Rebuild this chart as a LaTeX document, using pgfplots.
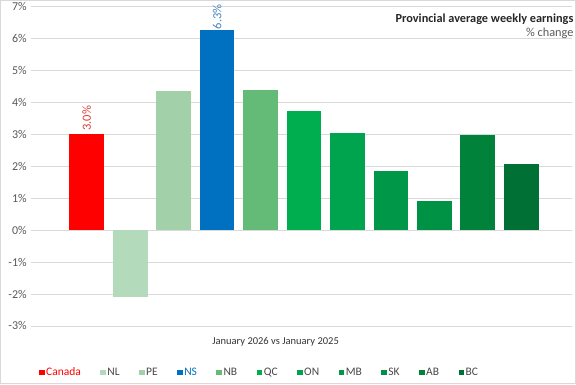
\documentclass[border=0pt]{standalone}
\usepackage{pgfplots}
\pgfplotsset{compat=1.18}
\usepackage{fontspec}
\setmainfont{Carlito}
\definecolor{gridgray}{HTML}{D9D9D9}
\definecolor{txtgray}{HTML}{595959}
\definecolor{cCA}{HTML}{FF0000}
\definecolor{cNL}{HTML}{B4DABC}
\definecolor{cPE}{HTML}{A1D0A9}
\definecolor{cNS}{HTML}{0070C0}
\definecolor{cNB}{HTML}{63BB77}
\definecolor{cQC}{HTML}{00AE50}
\definecolor{cON}{HTML}{00A34E}
\definecolor{cMB}{HTML}{009748}
\definecolor{cSK}{HTML}{009244}
\definecolor{cAB}{HTML}{00823B}
\definecolor{cBC}{HTML}{007034}
\definecolor{lblCA}{HTML}{E03A3A}
\definecolor{lblNS}{HTML}{4A86BE}
\pgfplotsset{
  mybar/.style={ybar, bar width=0.8, bar shift=0pt, draw=none,
    legend image code/.code={\path[##1,draw=none] (0bp,-2.8bp) rectangle (5.6bp,2.8bp);}},
}
\begin{document}
\begin{tikzpicture}
\begin{axis}[
  at={(31bp,58bp)}, anchor=south west,
  scale only axis,
  width=541bp, height=319.5bp,
  xmin=-1.276, xmax=11.16,
  ymin=-3, ymax=7,
  ytick={-3,-2,-1,0,1,2,3,4,5,6,7},
  yticklabel={\pgfmathprintnumber{\tick}\%},
  /pgf/number format/assume math mode=true,
  yticklabel style={font=\fontsize{12bp}{14bp}\selectfont, text=txtgray, inner sep=0pt, anchor=east, xshift=-4.5bp},
  xtick=\empty,
  major tick length=0pt,
  axis line style={draw=none},
  ymajorgrids,
  grid style={color=gridgray, line width=0.8bp},
  clip=false,
  legend columns=11,
  legend style={at={(0.0139,-0.146)}, anchor=west, draw=none, fill=none, inner sep=0pt,
    font=\fontsize{11.5bp}{13bp}\selectfont, text=txtgray!80!black,
    nodes={inner sep=1.5bp},
    /tikz/every even column/.append style={column sep=18bp}},
]
\addplot[mybar, fill=cCA, nodes near coords={\pgfmathprintnumber[fixed,fixed zerofill,precision=1]{\pgfplotspointmeta}\%},
  every node near coord/.style={rotate=90, anchor=west, font=\fontsize{12.5bp}{14bp}\selectfont, text=lblCA, inner sep=3.5bp}]
  coordinates {(0,3.0)};
\addplot[mybar, fill=cNL] coordinates {(1,-2.08)};
\addplot[mybar, fill=cPE] coordinates {(2,4.36)};
\addplot[mybar, fill=cNS, nodes near coords={\pgfmathprintnumber[fixed,fixed zerofill,precision=1]{\pgfplotspointmeta}\%},
  every node near coord/.style={rotate=90, anchor=west, font=\fontsize{12.5bp}{14bp}\selectfont, text=lblNS, inner sep=1bp}]
  coordinates {(3,6.26)};
\addplot[mybar, fill=cNB] coordinates {(4,4.38)};
\addplot[mybar, fill=cQC] coordinates {(5,3.73)};
\addplot[mybar, fill=cON] coordinates {(6,3.05)};
\addplot[mybar, fill=cMB] coordinates {(7,1.85)};
\addplot[mybar, fill=cSK] coordinates {(8,0.91)};
\addplot[mybar, fill=cAB] coordinates {(9,2.98)};
\addplot[mybar, fill=cBC] coordinates {(10,2.07)};
\legend{\textcolor{cCA}{Canada},NL,PE,\textcolor{cNS}{NS},NB,QC,ON,MB,SK,AB,BC}
\node[anchor=base east, inner sep=0pt, font=\bfseries\fontsize{12.3bp}{14bp}\selectfont, text=black!85]
  at (axis description cs:1.0037,0.9515) {Provincial average weekly earnings};
\node[anchor=base east, inner sep=0pt, font=\fontsize{12.3bp}{14bp}\selectfont, text=txtgray]
  at (axis description cs:1.0037,0.9077) {\% change};
\node[anchor=base, inner sep=0pt, font=\fontsize{10.5bp}{12bp}\selectfont, text=black!80]
  at (axis description cs:0.452,-0.0595) {January 2026 vs January 2025};
\draw[gridgray, line width=0.8bp] (axis description cs:-0.0573,-0.1815) rectangle (axis description cs:1.00739,1.0203);
\end{axis}
\end{tikzpicture}
\end{document}
